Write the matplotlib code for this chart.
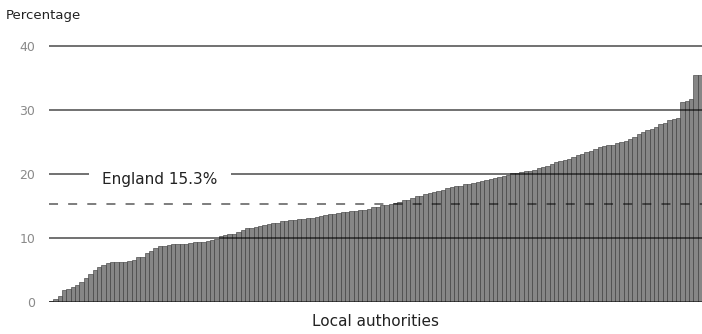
import numpy as np
import matplotlib
matplotlib.use("Agg")
import matplotlib.pyplot as plt

plt.rcParams['font.family'] = ['DejaVu Sans']

# percentage per local authority, sorted
values = [
    0.2, 0.5, 0.9, 1.9, 2.0, 2.3, 2.7, 3.1, 3.7, 4.4,
    5.0, 5.4, 5.8, 6.1, 6.2, 6.2, 6.3, 6.3, 6.4, 6.5,
    7.0, 7.1, 7.7, 7.9, 8.5, 8.7, 8.8, 8.9, 9.0, 9.0,
    9.1, 9.1, 9.2, 9.3, 9.3, 9.4, 9.6, 9.7, 9.8, 10.3,
    10.5, 10.6, 10.7, 10.9, 11.2, 11.5, 11.6, 11.7, 11.8, 12.0,
    12.2, 12.3, 12.4, 12.6, 12.7, 12.8, 12.8, 12.9, 13.0, 13.1,
    13.2, 13.3, 13.4, 13.6, 13.7, 13.8, 13.9, 14.0, 14.1, 14.2,
    14.2, 14.3, 14.4, 14.5, 14.8, 14.9, 15.1, 15.2, 15.3, 15.5,
    15.7, 15.9, 16.0, 16.2, 16.5, 16.6, 16.8, 17.0, 17.2, 17.4,
    17.5, 17.8, 18.0, 18.1, 18.2, 18.4, 18.5, 18.6, 18.7, 18.9,
    19.0, 19.2, 19.3, 19.5, 19.7, 19.9, 20.1, 20.2, 20.3, 20.4,
    20.5, 20.7, 21.0, 21.1, 21.2, 21.5, 21.8, 22.0, 22.2, 22.3,
    22.6, 22.9, 23.1, 23.4, 23.6, 23.9, 24.2, 24.4, 24.5, 24.6,
    24.8, 25.0, 25.1, 25.4, 25.8, 26.3, 26.5, 26.8, 27.0, 27.4,
    27.8, 28.0, 28.4, 28.6, 28.8, 31.2, 31.4, 31.7, 35.5, 35.5,
]
england = 15.3
yticks = [0, 10, 20, 30, 40]

fig = plt.figure(figsize=(7.02, 3.34), dpi=100)
ax = fig.add_axes([49/702, 32/334, 653/702, 262.4/334])

x = np.arange(len(values))
ax.bar(x, values, width=1.0, color='#868686', edgecolor='#333333', linewidth=0.4, zorder=2)

for y in yticks:
    ax.axhline(y, color='black', alpha=0.6, lw=1.3, zorder=3)

ln = ax.axhline(england, color='black', alpha=0.55, lw=1.3, zorder=3)
ln.set_dashes((5.0, 5.6))

ax.text(25.0, 19.2, 'England 15.3%', ha='center', va='center', fontsize=11,
        color='#222222', zorder=4,
        bbox=dict(boxstyle='square,pad=0.85', fc='white', ec='none'))

ax.set_xlim(-0.5, len(values) - 0.5)
ax.set_ylim(0, 41)
ax.set_xticks([])
ax.set_yticks(yticks)
ax.tick_params(axis='y', length=0, pad=10, labelsize=9, labelcolor='#8a8a8a')
for s in ax.spines.values():
    s.set_visible(False)

fig.text(6/702, 1 - 16/334, 'Percentage', fontsize=9.5, color='#222222', va='center', ha='left')
fig.text(376/702, 1 - 322/334, 'Local authorities', fontsize=11, color='#222222', va='center', ha='center')

fig.savefig('out.png', dpi=100)
